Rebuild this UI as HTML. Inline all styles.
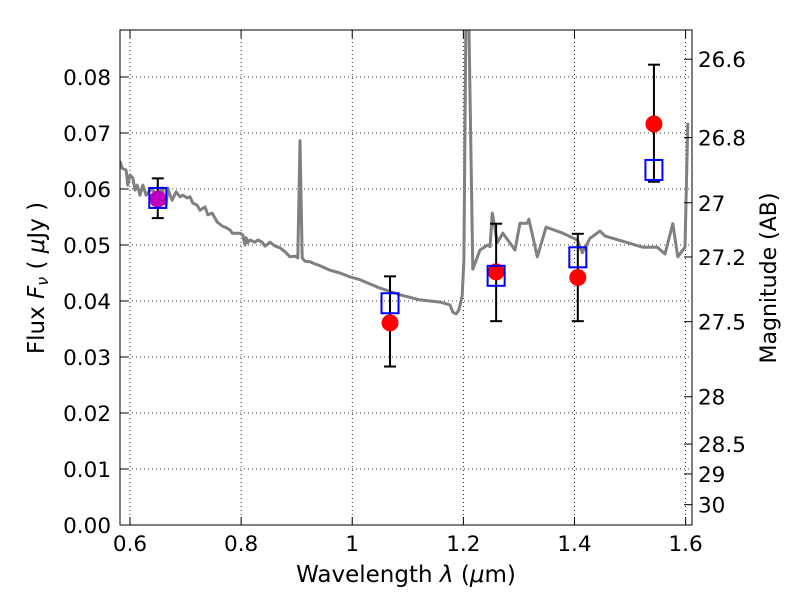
<!DOCTYPE html>
<html><head><meta charset="utf-8"><style>
body{margin:0;background:#fff;font-family:"Liberation Sans","DejaVu Sans",sans-serif}
svg text{font-family:"DejaVu Sans","Liberation Sans",sans-serif;fill:#000}
</style></head><body>
<svg id="chart" width="800" height="600">
<defs><clipPath id="clip"><rect x="120" y="30" width="572" height="495"/></clipPath></defs>
<rect width="800" height="600" fill="#fff"/>
<g id="grid"></g>
<g id="spec" clip-path="url(#clip)"></g>
<g id="pts"></g>
<rect x="120" y="30" width="572" height="495" fill="none" stroke="#000" stroke-width="1"/>
<g id="axes"></g>
<text x="44" y="278" font-size="23" text-anchor="middle" transform="rotate(-90 44 278)">Flux  <tspan font-style="italic">F</tspan><tspan font-size="16" dy="4" font-style="italic">ν</tspan><tspan dy="-4">  ( </tspan><tspan font-style="italic">μ</tspan>Jy )</text>
<text x="406" y="582" font-size="23" text-anchor="middle">Wavelength  <tspan font-style="italic">λ</tspan> (<tspan font-style="italic">μ</tspan>m)</text>
<text x="776" y="278" font-size="22" text-anchor="middle" transform="rotate(-90 776 278)">Magnitude (AB)</text>
</svg>
<script>
const specLam=[0.582,0.586,0.593,0.596,0.600,0.605,0.609,0.613,0.618,0.623,0.629,0.636,0.641,0.649,0.658,0.661,0.665,0.668,0.672,0.676,0.683,0.690,0.695,0.703,0.708,0.713,0.721,0.726,0.735,0.740,0.748,0.753,0.757,0.766,0.771,0.780,0.784,0.798,0.803,0.807,0.809,0.812,0.816,0.825,0.830,0.838,0.843,0.848,0.852,0.861,0.870,0.879,0.888,0.897,0.902,0.906,0.910,0.915,0.924,0.933,0.942,0.951,0.960,0.978,0.996,1.014,1.050,1.086,1.122,1.158,1.176,1.181,1.187,1.192,1.198,1.201,1.205,1.209,1.217,1.230,1.244,1.248,1.252,1.261,1.271,1.293,1.302,1.315,1.318,1.333,1.349,1.379,1.405,1.414,1.428,1.446,1.455,1.469,1.523,1.549,1.563,1.577,1.586,1.599,1.604];
const specFlux=[0.0650,0.0637,0.0634,0.0607,0.0625,0.0620,0.0598,0.0607,0.0589,0.0607,0.0589,0.0598,0.0598,0.0589,0.0602,0.0586,0.0571,0.0602,0.0589,0.0580,0.0595,0.0586,0.0589,0.0584,0.0586,0.0575,0.0571,0.0562,0.0568,0.0554,0.0557,0.0548,0.0541,0.0534,0.0532,0.0527,0.0521,0.0521,0.0518,0.0500,0.0513,0.0504,0.0509,0.0505,0.0509,0.0505,0.0498,0.0502,0.0505,0.0498,0.0495,0.0488,0.0479,0.0480,0.0477,0.0686,0.0477,0.0471,0.0470,0.0466,0.0463,0.0459,0.0455,0.0450,0.0443,0.0438,0.0423,0.0411,0.0402,0.0398,0.0393,0.0380,0.0377,0.0384,0.0410,0.0473,0.095,0.095,0.0457,0.0491,0.0500,0.0497,0.0557,0.0504,0.0521,0.0491,0.0539,0.0539,0.0546,0.0479,0.0532,0.0521,0.0509,0.0486,0.0512,0.0525,0.0516,0.0512,0.0496,0.0496,0.0484,0.0538,0.0479,0.0496,0.0718];
const ptLam=[0.650,1.068,1.259,1.406,1.543];
const ptFlux=[0.0582,0.0361,0.0452,0.0442,0.0716];
const modelFlux=[0.0584,0.0396,0.0445,0.0478,0.0634];
const errLo=[0.0548,0.0283,0.0364,0.0364,0.0613];
const errHi=[0.0619,0.0444,0.0538,0.0520,0.0822];
const ptColors=['#bf00bf','red','red','red','red'];
const xTicks=[0.6,0.8,1.0,1.2,1.4,1.6];
const xTickLabels=['0.6','0.8','1','1.2','1.4','1.6'];
const yTicks=[0,0.01,0.02,0.03,0.04,0.05,0.06,0.07,0.08];
const yTickLabels=['0.00','0.01','0.02','0.03','0.04','0.05','0.06','0.07','0.08'];
const magTicks=[26.6,26.8,27,27.2,27.5,28,28.5,29,30];
const magLabels=['26.6','26.8','27','27.2','27.5','28','28.5','29','30'];

const X=l=>130+(l-0.6)*555.6;
const Y=f=>525-f*5600;
const NS='http://www.w3.org/2000/svg';
function mk(parent,tag,at){const e=document.createElementNS(NS,tag);for(const k in at)e.setAttribute(k,at[k]);parent.appendChild(e);return e;}
const grid=document.getElementById('grid'),axes=document.getElementById('axes'),spec=document.getElementById('spec'),pts=document.getElementById('pts');

xTicks.forEach((t,i)=>{const x=X(t);
 let g=mk(grid,'line',{x1:x,x2:x,y1:30,y2:525,stroke:'#000','stroke-width':0.8,'stroke-dasharray':'1,3'});
 
 mk(axes,'line',{x1:x,x2:x,y1:525,y2:517,stroke:'#000'});mk(axes,'line',{x1:x,x2:x,y1:30,y2:38,stroke:'#000'});
 const tx=mk(axes,'text',{x:x,y:551,'font-size':21.5,'text-anchor':'middle'});tx.textContent=xTickLabels[i];
 });
yTicks.forEach((t,i)=>{const y=Y(t);
 let g=mk(grid,'line',{x1:120,x2:692,y1:y,y2:y,stroke:'#000','stroke-width':0.8,'stroke-dasharray':'1,3'});
 
 mk(axes,'line',{x1:120,x2:128,y1:y,y2:y,stroke:'#000'});
 const tx=mk(axes,'text',{x:111,y:y+8,'font-size':21.5,'text-anchor':'end'});tx.textContent=yTickLabels[i];
 });
magTicks.forEach((m,i)=>{const f=Math.pow(10,(23.9-m)/2.5);const y=Y(f);
 mk(axes,'line',{x1:684,x2:692,y1:y,y2:y,stroke:'#000'});
 const tx=mk(axes,'text',{x:698,y:y+8,'font-size':21.5});tx.textContent=magLabels[i];
 });

const d=specLam.map((l,i)=>(i?'L':'M')+X(l).toFixed(1)+','+Y(specFlux[i]).toFixed(1)).join('');
const sp=mk(spec,'path',{d:d,fill:'none',stroke:'#808080','stroke-width':3,'stroke-linejoin':'round'});


ptLam.forEach((l,i)=>{const x=X(l);
 const e=mk(pts,'g',{});
 mk(e,'line',{x1:x,x2:x,y1:Y(errLo[i]),y2:Y(errHi[i]),stroke:'#000','stroke-width':2});
 mk(e,'line',{x1:x-6,x2:x+6,y1:Y(errLo[i]),y2:Y(errLo[i]),stroke:'#000','stroke-width':2});
 mk(e,'line',{x1:x-6,x2:x+6,y1:Y(errHi[i]),y2:Y(errHi[i]),stroke:'#000','stroke-width':2});
 const c=mk(pts,'circle',{cx:x,cy:Y(ptFlux[i]),r:8.5,fill:ptColors[i]});
 
 const s=mk(pts,'rect',{x:x-8.5,y:Y(modelFlux[i])-10,width:17,height:20,fill:'none',stroke:'#0000ff','stroke-width':2});
 });
</script>
</body></html>
